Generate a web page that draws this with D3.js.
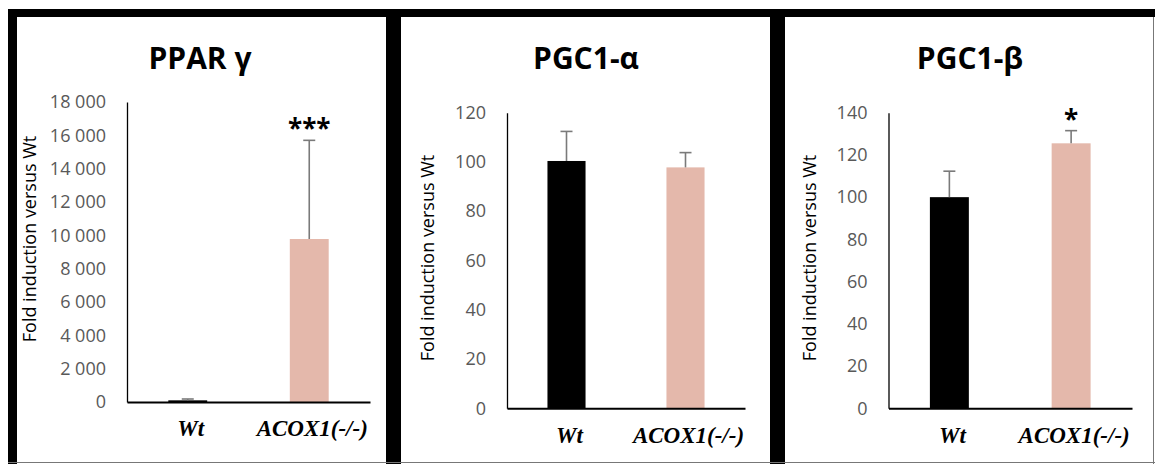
<!DOCTYPE html>
<html>
<head>
<meta charset="utf-8">
<script src="https://cdn.jsdelivr.net/npm/d3@7/dist/d3.min.js"></script>
<style>
  html, body { margin: 0; padding: 0; background: #fff; }
  svg { display: block; }
</style>
</head>
<body>
<svg id="chart" width="1155" height="464"></svg>
<script>
// ---------- DATA ----------
const titles = ["PPAR γ", "PGC1-α", "PGC1-β"];
const categories = ["Wt", "ACOX1(-/-)"];
const pparValues = [100, 9780];
const pparErrors = [80, 5920];
const pgc1aValues = [100.4, 97.8];
const pgc1aErrors = [12, 6];
const pgc1bValues = [100, 125.5];
const pgc1bErrors = [12.3, 6];
const pparTicks = [0, 2000, 4000, 6000, 8000, 10000, 12000, 14000, 16000, 18000];
const pgc1aTicks = [0, 20, 40, 60, 80, 100, 120];
const pgc1bTicks = [0, 20, 40, 60, 80, 100, 120, 140];
const pparStars = ["", "***"];
const pgc1aStars = ["", ""];
const pgc1bStars = ["", "*"];
const yAxisLabel = "Fold induction versus Wt";

// ---------- LAYOUT / STYLE ----------
const barColors = ["#000000", "#E4B8AB"];
const errColor = "#7a7a7a";
const tickColor = "#595959";
const serifFont = "Liberation Serif, DejaVu Serif, serif";

const panels = [
  { title: titles[0], values: pparValues, errors: pparErrors, ticks: pparTicks, stars: pparStars,
    x0: 127, x1: 370, yTop: 102, yBot: 402, titleX: 200, labelX: 30, labelY: 239 },
  { title: titles[1], values: pgc1aValues, errors: pgc1aErrors, ticks: pgc1aTicks, stars: pgc1aStars,
    x0: 507, x1: 745, yTop: 112.7, yBot: 408.3, titleX: 586, labelX: 428, labelY: 258 },
  { title: titles[2], values: pgc1bValues, errors: pgc1bErrors, ticks: pgc1bTicks, stars: pgc1bStars,
    x0: 888.5, x1: 1132, yTop: 112.7, yBot: 408.3, titleX: 970, labelX: 810, labelY: 258 }
];

const svg = d3.select("#chart");
svg.append("rect").attr("width", 1155).attr("height", 464).attr("fill", "#fff");

const locale = d3.formatLocale({ decimal: ",", thousands: " ", grouping: [3], currency: ["", ""] });
const fmt = locale.format(",");

panels.forEach(p => {
  const g = svg.append("g");
  const y = d3.scaleLinear()
    .domain([p.ticks[0], p.ticks[p.ticks.length - 1]])
    .range([p.yBot, p.yTop]);
  const x = d3.scaleBand().domain(categories).range([p.x0, p.x1]).padding(0);
  const barW = x.bandwidth() * 0.32;

  // title
  g.append("text")
    .attr("x", p.titleX).attr("y", 69)
    .attr("text-anchor", "middle")
    .attr("font-family", "'Open Sans', sans-serif")
    .attr("font-weight", "bold")
    .attr("font-size", 30)
    .attr("fill", "#000")
    .text(p.title);

  // y axis label
  g.append("text")
    .attr("transform", `translate(${p.labelX + 6},${p.labelY}) rotate(-90)`)
    .attr("text-anchor", "middle")
    .attr("font-family", "'Open Sans', sans-serif")
    .attr("font-size", 18)
    .attr("fill", "#000")
    .text(yAxisLabel);

  // bars
  g.selectAll("rect.bar").data(categories).join("rect")
    .attr("class", "bar")
    .attr("x", d => x(d) + x.bandwidth() / 2 - barW / 2)
    .attr("width", barW)
    .attr("y", (d, i) => y(p.values[i]))
    .attr("height", (d, i) => y(0) - y(p.values[i]))
    .attr("fill", (d, i) => barColors[i]);

  // error bars
  categories.forEach((c, i) => {
    const cx = x(c) + x.bandwidth() / 2;
    const top = y(p.values[i] + p.errors[i]);
    g.append("line")
      .attr("x1", cx).attr("x2", cx)
      .attr("y1", y(p.values[i])).attr("y2", top)
      .attr("stroke", errColor).attr("stroke-width", 1.6);
    g.append("line")
      .attr("x1", cx - 6).attr("x2", cx + 6)
      .attr("y1", top).attr("y2", top)
      .attr("stroke", errColor).attr("stroke-width", 1.6);
    if (p.stars[i]) {
      g.append("text")
        .attr("x", cx).attr("y", top - 2)
        .attr("text-anchor", "middle")
        .attr("font-family", "'Open Sans', sans-serif")
        .attr("font-weight", "bold")
        .attr("font-size", 26)
        .attr("fill", "#000")
        .text(p.stars[i]);
    }
  });

  // y axis
  const yAxis = d3.axisLeft(y).tickValues(p.ticks).tickSize(0).tickPadding(21).tickFormat(fmt);
  const ya = g.append("g").attr("transform", `translate(${p.x0},0)`).call(yAxis);
  ya.select(".domain").attr("stroke", "#000").attr("stroke-width", 1.3);
  ya.selectAll("text")
    .attr("font-family", "'Open Sans', sans-serif")
    .attr("font-size", 18)
    .attr("fill", tickColor);

  // x axis
  const xAxis = d3.axisBottom(x).tickSize(0).tickPadding(18);
  const xa = g.append("g").attr("transform", `translate(0,${p.yBot})`).call(xAxis);
  xa.attr("font-family", serifFont).attr("font-size", 23);
  xa.select(".domain").attr("stroke", "#000").attr("stroke-width", 2);
  xa.selectAll("text")
    .attr("font-family", serifFont)
    .attr("font-weight", "bold")
    .attr("font-style", "italic")
    .attr("font-size", 23)
    .attr("fill", "#000")
    .attr("dx", 3);
});

// ---------- FRAME ----------
const frame = svg.append("g");
frame.append("rect").attr("x", 8).attr("y", 9).attr("width", 1147).attr("height", 8).attr("fill", "#000");
frame.append("rect").attr("x", 8).attr("y", 9).attr("width", 9).attr("height", 455).attr("fill", "#000");
frame.append("rect").attr("x", 386).attr("y", 9).attr("width", 15).attr("height", 455).attr("fill", "#000");
frame.append("rect").attr("x", 770).attr("y", 9).attr("width", 15).attr("height", 455).attr("fill", "#000");
frame.append("line").attr("x1", 8).attr("x2", 1155).attr("y1", 462.5).attr("y2", 462.5)
  .attr("stroke", "#777").attr("stroke-width", 1);
frame.append("line").attr("x1", 1153.5).attr("x2", 1153.5).attr("y1", 17).attr("y2", 464)
  .attr("stroke", "#777").attr("stroke-width", 1);
</script>
</body>
</html>
